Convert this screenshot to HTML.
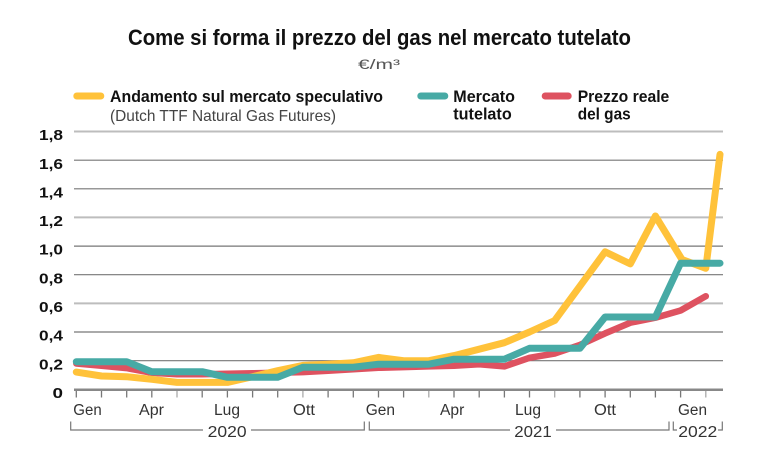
<!DOCTYPE html>
<html><head><meta charset="utf-8">
<style>
html,body{margin:0;padding:0;background:#fff;}
svg{display:block;}
text{font-family:"Liberation Sans",sans-serif;}
</style></head>
<body>
<svg width="780" height="466" viewBox="0 0 780 466" xmlns="http://www.w3.org/2000/svg">
<rect width="780" height="466" fill="#fff"/>
<!-- title -->
<text x="128" y="45" font-size="22" font-weight="bold" fill="#111" textLength="503" lengthAdjust="spacingAndGlyphs">Come si forma il prezzo del gas nel mercato tutelato</text>
<text x="358" y="69" font-size="13.5" fill="#555" textLength="42" lengthAdjust="spacingAndGlyphs">€/m³</text>

<!-- legend -->
<line x1="76.8" y1="96" x2="100.8" y2="96" stroke="#FFC23A" stroke-width="7" stroke-linecap="round"/>
<text x="110" y="102" font-size="17" font-weight="bold" fill="#111" textLength="273" lengthAdjust="spacingAndGlyphs">Andamento sul mercato speculativo</text>
<text x="110" y="121" font-size="16" fill="#444" textLength="226" lengthAdjust="spacingAndGlyphs">(Dutch TTF Natural Gas Futures)</text>

<line x1="420.8" y1="96" x2="444.8" y2="96" stroke="#47AAA5" stroke-width="7" stroke-linecap="round"/>
<text x="453.3" y="102" font-size="17" font-weight="bold" fill="#111" textLength="61.7" lengthAdjust="spacingAndGlyphs">Mercato</text>
<text x="453.3" y="119.5" font-size="17" font-weight="bold" fill="#111" textLength="58.4" lengthAdjust="spacingAndGlyphs">tutelato</text>

<line x1="545.2" y1="96" x2="568.2" y2="96" stroke="#DE5260" stroke-width="7" stroke-linecap="round"/>
<text x="577.7" y="102" font-size="17" font-weight="bold" fill="#111" textLength="91.6" lengthAdjust="spacingAndGlyphs">Prezzo reale</text>
<text x="577.7" y="119.5" font-size="17" font-weight="bold" fill="#111" textLength="53" lengthAdjust="spacingAndGlyphs">del gas</text>

<!-- gridlines -->
<g>
<line x1="74" x2="723" y1="131.5" y2="131.5" stroke="#bdbdbd" stroke-width="2"/>
<line x1="74" x2="723" y1="160.2" y2="160.2" stroke="#777" stroke-width="1.2"/>
<line x1="74" x2="723" y1="188.8" y2="188.8" stroke="#777" stroke-width="1.2"/>
<line x1="74" x2="723" y1="217.4" y2="217.4" stroke="#bdbdbd" stroke-width="2"/>
<line x1="74" x2="723" y1="246.1" y2="246.1" stroke="#777" stroke-width="1.2"/>
<line x1="74" x2="723" y1="274.7" y2="274.7" stroke="#777" stroke-width="1.2"/>
<line x1="74" x2="723" y1="303.4" y2="303.4" stroke="#bdbdbd" stroke-width="2"/>
<line x1="74" x2="723" y1="332.0" y2="332.0" stroke="#777" stroke-width="1.2"/>
<line x1="74" x2="723" y1="360.7" y2="360.7" stroke="#777" stroke-width="1.2"/>
</g>

<!-- y labels -->
<g font-size="15" font-weight="bold" fill="#111" text-anchor="end">
<text x="63" y="140.2" textLength="24" lengthAdjust="spacingAndGlyphs">1,8</text>
<text x="63" y="168.8" textLength="24" lengthAdjust="spacingAndGlyphs">1,6</text>
<text x="63" y="197.4" textLength="24" lengthAdjust="spacingAndGlyphs">1,4</text>
<text x="63" y="226.1" textLength="24" lengthAdjust="spacingAndGlyphs">1,2</text>
<text x="63" y="254.7" textLength="24" lengthAdjust="spacingAndGlyphs">1,0</text>
<text x="63" y="283.4" textLength="24" lengthAdjust="spacingAndGlyphs">0,8</text>
<text x="63" y="312.0" textLength="24" lengthAdjust="spacingAndGlyphs">0,6</text>
<text x="63" y="340.7" textLength="24" lengthAdjust="spacingAndGlyphs">0,4</text>
<text x="63" y="369.3" textLength="24" lengthAdjust="spacingAndGlyphs">0,2</text>
<text x="63" y="398" textLength="10.5" lengthAdjust="spacingAndGlyphs">0</text>
</g>

<!-- ticks -->
<g stroke="#777" stroke-width="1.3">
<line x1="76.3" x2="76.3" y1="389" y2="397.5"/>
<line x1="101.5" x2="101.5" y1="389" y2="397.5"/>
<line x1="126.7" x2="126.7" y1="389" y2="397.5"/>
<line x1="151.8" x2="151.8" y1="389" y2="397.5"/>
<line x1="177.0" x2="177.0" y1="389" y2="397.5" stroke="#aaa"/>
<line x1="202.2" x2="202.2" y1="389" y2="397.5"/>
<line x1="227.4" x2="227.4" y1="389" y2="397.5"/>
<line x1="252.6" x2="252.6" y1="389" y2="397.5"/>
<line x1="277.7" x2="277.7" y1="389" y2="397.5"/>
<line x1="302.9" x2="302.9" y1="389" y2="397.5" stroke="#aaa"/>
<line x1="328.1" x2="328.1" y1="389" y2="397.5"/>
<line x1="353.3" x2="353.3" y1="389" y2="397.5"/>
<line x1="378.5" x2="378.5" y1="389" y2="397.5"/>
<line x1="403.6" x2="403.6" y1="389" y2="397.5"/>
<line x1="428.8" x2="428.8" y1="389" y2="397.5" stroke="#aaa"/>
<line x1="454.0" x2="454.0" y1="389" y2="397.5"/>
<line x1="479.2" x2="479.2" y1="389" y2="397.5"/>
<line x1="504.4" x2="504.4" y1="389" y2="397.5"/>
<line x1="529.5" x2="529.5" y1="389" y2="397.5"/>
<line x1="554.7" x2="554.7" y1="389" y2="397.5" stroke="#aaa"/>
<line x1="579.9" x2="579.9" y1="389" y2="397.5"/>
<line x1="605.1" x2="605.1" y1="389" y2="397.5"/>
<line x1="630.3" x2="630.3" y1="389" y2="397.5"/>
<line x1="655.4" x2="655.4" y1="389" y2="397.5"/>
<line x1="680.6" x2="680.6" y1="389" y2="397.5"/>
<line x1="705.8" x2="705.8" y1="389" y2="397.5" stroke="#aaa"/>
</g>

<!-- series -->
<g fill="none" stroke-linejoin="round" stroke-linecap="round">
<polyline stroke="#DE5260" stroke-width="6.5" points="76.3,363.5 101.5,365.7 126.7,368.1 151.8,372.8 177.0,374.3 202.2,374.3 227.4,373.8 252.6,373.3 277.7,372.8 302.9,372.1 328.1,370.7 353.3,369.2 378.5,367.8 403.6,367.1 428.8,366.4 454.0,365.7 479.2,364.2 504.4,366.4 529.5,357.8 554.7,353.5 579.9,344.9 605.1,333.4 630.3,322.7 655.4,317.7 680.6,310.5 705.8,296.2"/>
<polyline stroke="#FFC23A" stroke-width="7" points="76.3,372.1 101.5,376.0 126.7,376.7 151.8,379.3 177.0,382.4 202.2,382.4 227.4,382.4 252.6,376.7 277.7,370.7 302.9,365.4 328.1,364.2 353.3,362.8 378.5,357.4 403.6,360.7 428.8,360.7 454.0,355.6 479.2,349.2 504.4,342.7 529.5,332.0 554.7,320.5 579.9,286.2 605.1,251.8 630.3,263.9 655.4,216.0 682,259.5 705.8,268.3 720,154.4"/>
<polyline stroke="#47AAA5" stroke-width="7" points="76.3,361.7 126.7,361.7 151.8,371.7 202.2,371.7 227.4,377.3 277.7,377.3 302.9,367.2 353.3,367.2 378.5,364.2 428.8,364.2 454.0,359.2 504.4,359.2 529.5,348.3 579.9,348.3 605.1,317.0 655.4,317.0 680.6,263.2 720,263.2"/>
</g>

<!-- x axis -->
<line x1="74" x2="723" y1="389.8" y2="389.8" stroke="#888" stroke-width="2.5"/>

<!-- month labels -->
<g font-size="15.5" fill="#333">
<text x="73.3" y="415" textLength="28.4" lengthAdjust="spacingAndGlyphs">Gen</text>
<text x="139" y="415" textLength="25" lengthAdjust="spacingAndGlyphs">Apr</text>
<text x="214" y="415" textLength="26" lengthAdjust="spacingAndGlyphs">Lug</text>
<text x="293" y="415" textLength="22" lengthAdjust="spacingAndGlyphs">Ott</text>
<text x="365.7" y="415" textLength="29.3" lengthAdjust="spacingAndGlyphs">Gen</text>
<text x="440" y="415" textLength="24.3" lengthAdjust="spacingAndGlyphs">Apr</text>
<text x="515" y="415" textLength="26" lengthAdjust="spacingAndGlyphs">Lug</text>
<text x="594" y="415" textLength="22" lengthAdjust="spacingAndGlyphs">Ott</text>
<text x="678" y="415" textLength="29" lengthAdjust="spacingAndGlyphs">Gen</text>
</g>

<!-- year brackets -->
<g fill="none" stroke="#777" stroke-width="1.2">
<path d="M70.7,421.5 V430 H203"/>
<path d="M251,430 H364.3 V421.5"/>
<path d="M369.3,421.5 V430 H510"/>
<path d="M556,430 H669 V421.5"/>
<path d="M673.3,421.5 V430 H677"/>
<path d="M718,430 H722.3 V421.5"/>
</g>
<g font-size="16" fill="#333">
<text x="207.7" y="437" textLength="39" lengthAdjust="spacingAndGlyphs">2020</text>
<text x="514.3" y="437" textLength="37.4" lengthAdjust="spacingAndGlyphs">2021</text>
<text x="678.3" y="437" textLength="39" lengthAdjust="spacingAndGlyphs">2022</text>
</g>
</svg>
</body></html>
